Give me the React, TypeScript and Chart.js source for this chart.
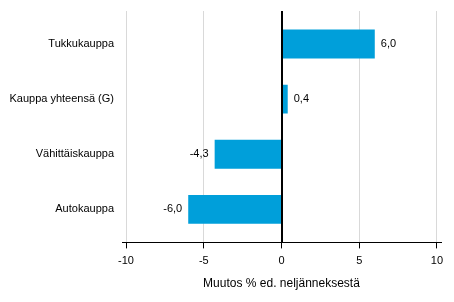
import React, { useEffect, useRef } from 'react';
import { Chart, registerables } from 'chart.js';

Chart.register(...registerables);

const categories = ['Tukkukauppa', 'Kauppa yhteensä (G)', 'Vähittäiskauppa', 'Autokauppa'];
const values = [6.0, 0.4, -4.3, -6.0];
const xTicks = [-10, -5, 0, 5, 10];
const xTitle = 'Muutos % ed. neljänneksestä';

const FONT = "'Liberation Sans', Arial, sans-serif";
const BAR_COLOR = '#009fda';

export default function App() {
  const ref = useRef<HTMLCanvasElement>(null);

  useEffect(() => {
    document.body.style.margin = '0';
    const overlay = {
      id: 'overlay',
      afterDatasetsDraw(chart: any) {
        const ctx = chart.ctx;
        const xs = chart.scales.x;
        const area = chart.chartArea;
        ctx.save();
        // zero line
        const zx = Math.round(xs.getPixelForValue(0)) + 0.5;
        ctx.strokeStyle = '#000';
        ctx.lineWidth = 1;
        ctx.beginPath();
        ctx.moveTo(zx, area.top);
        ctx.lineTo(zx, area.bottom);
        ctx.stroke();
        // value labels
        const meta = chart.getDatasetMeta(0);
        ctx.font = `11px ${FONT}`;
        ctx.fillStyle = '#000';
        ctx.textBaseline = 'middle';
        meta.data.forEach((el: any, i: number) => {
          const v = values[i];
          const txt = v.toFixed(1).replace('.', ',');
          if (v >= 0) {
            ctx.textAlign = 'left';
            ctx.fillText(txt, el.x + 6, el.y);
          } else {
            ctx.textAlign = 'right';
            ctx.fillText(txt, el.x - 6, el.y);
          }
        });
        ctx.restore();
      },
    };

    const chart = new Chart(ref.current as HTMLCanvasElement, {
      type: 'bar',
      data: {
        datasets: [
          {
            data: values.map((v, i) => ({ x: v, y: i })) as any,
            backgroundColor: BAR_COLOR,
            barPercentage: 1,
            categoryPercentage: 0.525,
          },
        ],
      },
      options: {
        indexAxis: 'y',
        animation: false,
        responsive: false,
        layout: { padding: { top: 11, right: 13, bottom: 11, left: 0 } },
        plugins: { legend: { display: false }, tooltip: { enabled: false } },
        scales: {
          x: {
            type: 'linear',
            min: -10.26,
            max: 10.26,
            afterBuildTicks: (s: any) => {
              s.ticks = xTicks.map((v) => ({ value: v }));
            },
            grid: {
              color: (c: any) => (c.tick && c.tick.value === 0 ? '#000' : '#d9d9d9'),
              tickColor: '#000',
              tickLength: 6,
              drawTicks: true,
            },
            border: { display: true, color: '#000', width: 1 },
            ticks: {
              padding: 6,
              color: '#000',
              font: { family: FONT, size: 11 },
              maxRotation: 0,
              callback: (v: any) => String(v),
            },
            title: {
              display: true,
              text: xTitle,
              color: '#000',
              font: { family: FONT, size: 12 },
              padding: { top: 3, bottom: 0 },
            },
          },
          y: {
            type: 'linear',
            min: -0.6,
            max: 3.6,
            reverse: true,
            offset: false,
            afterBuildTicks: (s: any) => {
              s.ticks = categories.map((_, i) => ({ value: i }));
            },
            afterFit: (s: any) => {
              s.width = 122;
              s.paddingTop = 0;
              s.paddingBottom = 0;
            },
            grid: { display: false, drawTicks: false, offset: false },
            border: { display: false },
            ticks: {
              padding: 8,
              color: '#000',
              font: { family: FONT, size: 11 },
              callback: (v: any) => categories[v as number] ?? '',
            },
          },
        },
      } as any,
      plugins: [overlay],
    });
    return () => chart.destroy();
  }, []);

  return (
    <div style={{ width: 454, height: 302 }}>
      <canvas ref={ref} width={454} height={302} />
    </div>
  );
}
